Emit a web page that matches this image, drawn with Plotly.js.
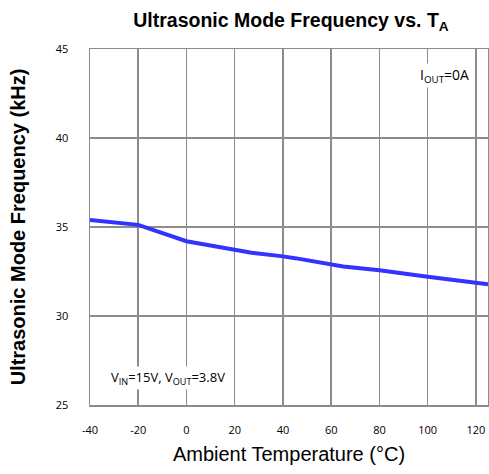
<!DOCTYPE html>
<html>
<head>
<meta charset="utf-8">
<script src="https://cdn.plot.ly/plotly-3.0.1.min.js"></script>
<style>html,body{margin:0;padding:0;background:#fff;}#chart{width:489px;height:474px;}</style>
</head>
<body>
<div id="chart"></div>
<script>
const temperature = [-40, -20, 0, 20, 27, 40, 45, 65, 80, 100, 115, 125];
const frequency = [35.4, 35.12, 34.2, 33.7, 33.55, 33.35, 33.25, 32.78, 32.57, 32.2, 31.98, 31.78];
const xTicks = [-40, -20, 0, 20, 40, 60, 80, 100, 120];
const yTicks = [25, 30, 35, 40, 45];

const trace = {
  x: temperature, y: frequency, type: 'scatter', mode: 'lines',
  line: {color: '#3333ff', width: 4, shape: 'linear'},
  hoverinfo: 'skip'
};

const layout = {
  width: 489, height: 474,
  margin: {l: 90, r: 1, t: 49, b: 69},
  paper_bgcolor: '#fff', plot_bgcolor: '#fff',
  showlegend: false,
  title: {
    text: '<b>Ultrasonic Mode Frequency vs. T<sub>A</sub></b>',
    font: {family: 'Liberation Sans, Arial', size: 19.5, color: '#000'},
    x: 0.595, xanchor: 'center', y: 0.957, yanchor: 'middle'
  },
  xaxis: {
    range: [-40, 125], tickvals: xTicks, ticktext: xTicks.map(String),
    showgrid: true, gridcolor: '#8c8c8c', gridwidth: 1.5,
    showline: true, linecolor: '#8c8c8c', linewidth: 1.5, mirror: true,
    zeroline: false, ticks: '', ticklabelstandoff: 14,
    tickfont: {family: 'Open Sans, Liberation Sans', size: 11, color: '#000'},
    title: {text: 'Ambient Temperature (°C)', font: {family: 'Liberation Sans, Arial', size: 20, color: '#000'}, standoff: 11}
  },
  yaxis: {
    range: [25, 45], tickvals: yTicks, ticktext: yTicks.map(String),
    showgrid: true, gridcolor: '#8c8c8c', gridwidth: 1.5,
    showline: true, linecolor: '#8c8c8c', linewidth: 1.5, mirror: true,
    zeroline: false, ticks: '', ticklabelstandoff: 18,
    tickfont: {family: 'Open Sans, Liberation Sans', size: 11, color: '#000'},
    title: {text: '<b>Ultrasonic Mode Frequency (kHz)</b>', font: {family: 'Liberation Sans, Arial', size: 20, color: '#000'}, standoff: 24}
  },
  annotations: [
    {x: 106.8, y: 43.5, xref: 'x', yref: 'y', showarrow: false, xanchor: 'center', yanchor: 'middle',
     text: 'I<sub>OUT</sub>=0A', bgcolor: '#fff',
     font: {family: 'Open Sans, Liberation Sans', size: 14, color: '#000'}},
    {x: -7.6, y: 26.5, xref: 'x', yref: 'y', showarrow: false, xanchor: 'center', yanchor: 'middle',
     text: 'V<sub>IN</sub>=15V, V<sub>OUT</sub>=3.8V', bgcolor: '#fff',
     font: {family: 'Open Sans, Liberation Sans', size: 13, color: '#000'}}
  ]
};

Plotly.newPlot('chart', [trace], layout, {displayModeBar: false, staticPlot: true});
</script>
</body>
</html>
